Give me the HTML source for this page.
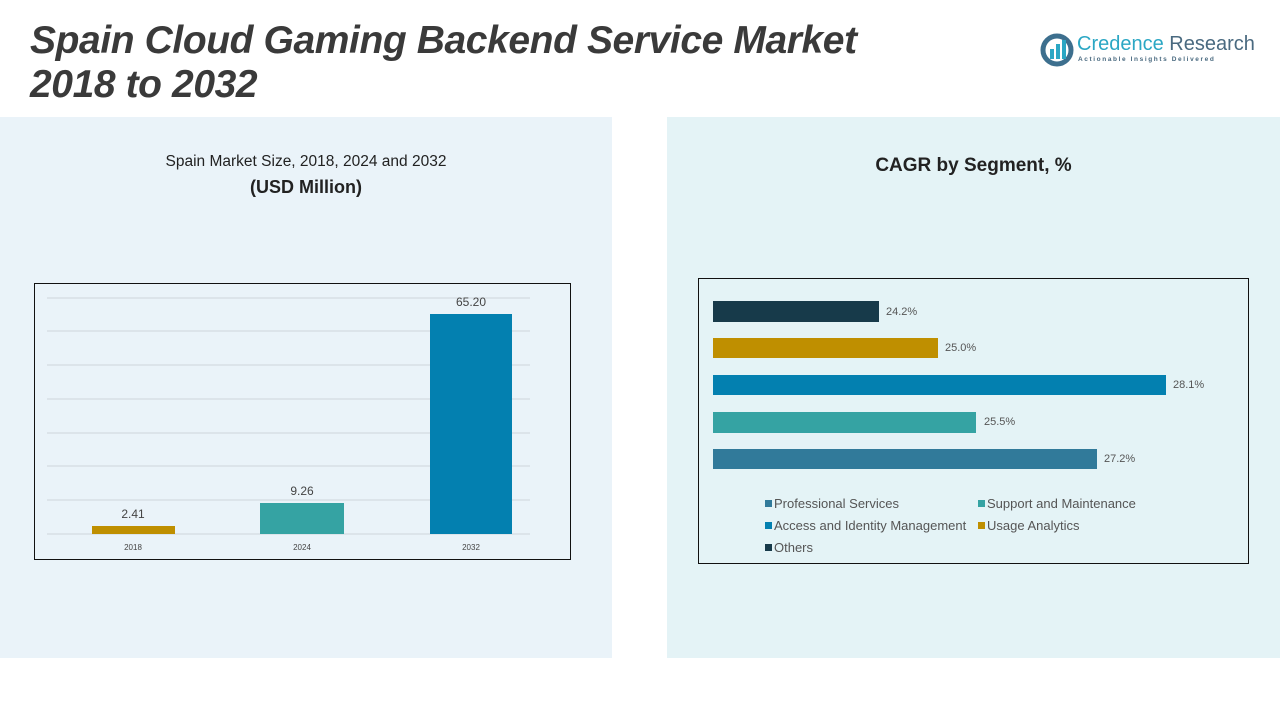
<!DOCTYPE html>
<html><head><meta charset="utf-8"><style>
body{margin:0;width:1280px;height:720px;background:#fff;position:relative;overflow:hidden;font-family:"Liberation Sans",sans-serif;}
.abs{position:absolute}
.title{left:30px;top:19px;font-size:39px;font-weight:bold;font-style:italic;color:#3a3a3a;line-height:44px;letter-spacing:-0.4px}
.lp{left:0;top:117px;width:612px;height:541px;background:#eaf3f9}
.rp{left:667px;top:117px;width:613px;height:541px;background:#e4f3f6}
.t{color:#555;font-size:11px}
.bar{position:absolute}
.lg{font-size:13px;color:#555}
.sq{display:inline-block;width:7px;height:7px;margin-right:2px;vertical-align:1px}
</style></head><body>
<div class="abs lp"></div>
<div class="abs rp"></div>
<div class="abs title">Spain Cloud Gaming Backend Service Market<br>2018 to 2032</div>
<svg class="abs" style="left:1040px;top:33px" width="34" height="34"><circle cx="17" cy="17" r="14" fill="none" stroke="#3d6f8e" stroke-width="5"/><rect x="10" y="16" width="4" height="10" fill="#2ba7c4"/><rect x="16" y="11" width="4" height="15" fill="#2ba7c4"/><rect x="22" y="7" width="4" height="19" fill="#2ba7c4"/></svg>
<div class="abs" style="left:1077px;top:33px;font-size:20px;color:#2ba7c4">Credence <span style="color:#4a6a80">Research</span></div>
<div class="abs" style="left:1078px;top:56px;font-size:6.5px;color:#4a6a80;letter-spacing:1.6px;font-weight:bold">Actionable Insights Delivered</div>

<div class="abs" style="left:0;width:612px;top:153px;text-align:center;font-size:15.5px;color:#222">Spain Market Size, 2018, 2024 and 2032</div>
<div class="abs" style="left:0;width:612px;top:177px;text-align:center;font-size:18px;font-weight:bold;color:#222">(USD Million)</div>
<div class="abs" style="left:34px;top:283px;width:535px;height:275px;border:1.5px solid #111"></div>
<svg class="abs" style="left:0;top:0" width="612" height="600">
<g stroke="#cfd6db" stroke-width="1">
<line x1="47" x2="530" y1="298" y2="298"/><line x1="47" x2="530" y1="331" y2="331"/><line x1="47" x2="530" y1="365" y2="365"/><line x1="47" x2="530" y1="399" y2="399"/><line x1="47" x2="530" y1="433" y2="433"/><line x1="47" x2="530" y1="466" y2="466"/><line x1="47" x2="530" y1="500" y2="500"/><line x1="47" x2="530" y1="534" y2="534"/></g>
<rect x="92" y="526" width="83" height="8" fill="#bf8f00"/>
<rect x="260" y="503" width="84" height="31" fill="#35a3a3"/>
<rect x="430" y="314" width="82" height="220" fill="#0380b0"/>
<g font-family="Liberation Sans" fill="#444" text-anchor="middle">
<text x="133" y="518" font-size="12">2.41</text>
<text x="302" y="495" font-size="12">9.26</text>
<text x="471" y="306" font-size="12">65.20</text>
<text x="133" y="550" font-size="8">2018</text>
<text x="302" y="550" font-size="8">2024</text>
<text x="471" y="550" font-size="8">2032</text></g>
</svg>

<div class="abs" style="left:667px;width:613px;top:155px;text-align:center;font-size:19px;font-weight:bold;color:#222">CAGR by Segment, %</div>
<div class="abs" style="left:698px;top:278px;width:549px;height:284px;border:1.5px solid #111"></div>
<div class="bar" style="left:713px;top:301px;width:166px;height:21px;background:#173a4a"></div>
<div class="bar" style="left:713px;top:338px;width:225px;height:20px;background:#bf8f00"></div>
<div class="bar" style="left:713px;top:375px;width:453px;height:20px;background:#0380b0"></div>
<div class="bar" style="left:713px;top:412px;width:263px;height:21px;background:#35a3a3"></div>
<div class="bar" style="left:713px;top:449px;width:384px;height:20px;background:#317a9a"></div>
<div class="abs t" style="left:886px;top:306px">24.2%</div>
<div class="abs t" style="left:945px;top:342px">25.0%</div>
<div class="abs t" style="left:1173px;top:379px">28.1%</div>
<div class="abs t" style="left:984px;top:416px">25.5%</div>
<div class="abs t" style="left:1104px;top:453px">27.2%</div>
<div class="abs lg" style="left:765px;top:496px"><span class="sq" style="background:#317a9a"></span>Professional Services</div>
<div class="abs lg" style="left:978px;top:496px"><span class="sq" style="background:#35a3a3"></span>Support and Maintenance</div>
<div class="abs lg" style="left:765px;top:518px"><span class="sq" style="background:#0380b0"></span>Access and Identity Management</div>
<div class="abs lg" style="left:978px;top:518px"><span class="sq" style="background:#bf8f00"></span>Usage Analytics</div>
<div class="abs lg" style="left:765px;top:540px"><span class="sq" style="background:#173a4a"></span>Others</div>
</body></html>
